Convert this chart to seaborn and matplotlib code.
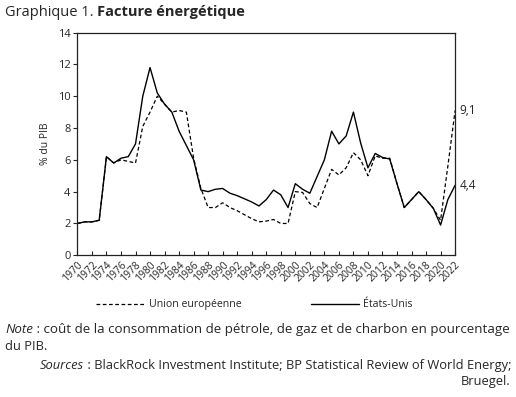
import matplotlib
matplotlib.use('Agg')
import matplotlib.pyplot as plt
import seaborn as sns
import pandas as pd
import numpy as np

# données (% du PIB)
annees = list(range(1970, 2023))
etats_unis = [2.0, 2.1, 2.1, 2.2, 6.2, 5.8, 6.1, 6.2, 7.0, 10.0,
              11.8, 10.2, 9.5, 9.0, 7.8, 6.9, 6.0, 4.1, 4.0, 4.15,
              4.2, 3.9, 3.75, 3.55, 3.35, 3.1, 3.5, 4.1, 3.8, 3.0,
              4.5, 4.15, 3.9, 4.95, 6.0, 7.8, 7.0, 7.5, 9.0, 7.05,
              5.5, 6.4, 6.15, 6.05, 4.5, 3.0, 3.5, 4.0, 3.5, 2.95,
              1.9, 3.5, 4.4]
union_eu = [2.0, 2.1, 2.1, 2.2, 6.2, 5.8, 6.0, 5.9, 5.8, 8.1,
            9.0, 10.0, 9.5, 9.0, 9.1, 9.0, 6.1, 4.2, 3.0, 3.0,
            3.3, 3.0, 2.8, 2.55, 2.3, 2.1, 2.15, 2.25, 2.0, 2.0,
            4.0, 3.95, 3.25, 3.0, 4.2, 5.4, 5.05, 5.5, 6.45, 6.0,
            5.0, 6.25, 6.1, 6.1, 4.5, 3.0, 3.5, 4.0, 3.5, 2.95,
            2.2, 5.6, 9.1]
xticks = list(range(1970, 2023, 2))
yticks = list(range(0, 15, 2))

df = pd.DataFrame({'annee': annees, 'eu': union_eu, 'us': etats_unis})

sns.set_style('ticks')
plt.rcParams['font.family'] = ['Open Sans', 'DejaVu Sans']

fig = plt.figure(figsize=(5.16, 3.97), dpi=100)
ax = fig.add_axes([0.150, 0.357, 0.732, 0.561])

sns.lineplot(data=df, x='annee', y='eu', ax=ax, color='black', lw=0.9,
             linestyle=(0, (3, 2)), label='Union européenne')
sns.lineplot(data=df, x='annee', y='us', ax=ax, color='black', lw=1.0,
             label='États-Unis')

ax.set_xlim(1970, 2022)
ax.set_ylim(0, 14)
ax.set_xticks(xticks)
ax.set_xticklabels([str(a) for a in xticks], rotation=45, ha='right',
                   rotation_mode='anchor', fontsize=7.5)
ax.set_yticks(yticks)
ax.set_yticklabels([str(v) for v in yticks], fontsize=8)
ax.tick_params(axis='x', direction='in', length=3, width=0.8, pad=3)
ax.tick_params(axis='y', direction='out', length=3, width=0.8, pad=2)
ax.set_xlabel('')
ax.set_ylabel('% du PIB', fontsize=7.5, labelpad=5)
for s in ax.spines.values():
    s.set_visible(True)
    s.set_linewidth(0.9)
    s.set_color('#222222')

# valeurs finales
ax.annotate('9,1', xy=(annees[-1], union_eu[-1]), xytext=(3, 0),
            textcoords='offset points', va='center', ha='left', fontsize=8.5,
            annotation_clip=False)
ax.annotate('4,4', xy=(annees[-1], etats_unis[-1]), xytext=(3, 0),
            textcoords='offset points', va='center', ha='left', fontsize=8.5,
            annotation_clip=False)

leg = ax.legend(loc='upper center', bbox_to_anchor=(0.469, -0.155), ncol=2,
                frameon=False, fontsize=7.6, handlelength=4.6,
                columnspacing=6.6, handletextpad=0.35)

# titre
y_t = 1 - 16 / 397
t1 = fig.text(5 / 516, y_t, 'Graphique 1. ', fontsize=10.5, va='baseline', ha='left')
fig.canvas.draw()
ax.annotate('Facture énergétique', xy=(1, y_t), xycoords=(t1, 'figure fraction'),
            va='baseline', ha='left', fontsize=10.5, fontweight='bold')

# notes
y_n = 1 - 333 / 397
n1 = fig.text(5 / 516, y_n, 'Note', fontsize=9.6, style='italic',
              va='baseline', ha='left')
ax.annotate(' : coût de la consommation de pétrole, de gaz et de charbon en pourcentage',
            xy=(1, y_n), xycoords=(n1, 'figure fraction'), va='baseline', ha='left',
            fontsize=9.6)
fig.text(5 / 516, 1 - 350 / 397, 'du PIB.', fontsize=9.3, va='baseline', ha='left')
y_s = 1 - 369 / 397
s1 = fig.text(511 / 516, y_s,
              ' : BlackRock Investment Institute; BP Statistical Review of World Energy;',
              fontsize=9.3, va='baseline', ha='right')
ax.annotate('Sources', xy=(0, y_s), xycoords=(s1, 'figure fraction'), va='baseline',
            ha='right', fontsize=9.3, style='italic')
fig.text(511 / 516, 1 - 385 / 397, 'Bruegel.', fontsize=9.3, va='baseline', ha='right')

fig.savefig('out.png', dpi=100)
